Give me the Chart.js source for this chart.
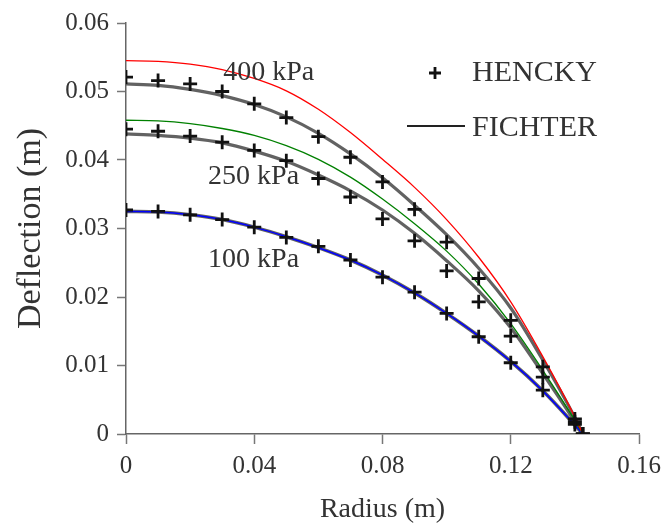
<!DOCTYPE html>
<html>
<head>
<meta charset="utf-8">
<script src="https://cdn.jsdelivr.net/npm/chart.js@4.4.1/dist/chart.umd.min.js"></script>
<style>
  html, body { margin: 0; padding: 0; background: #fff; }
  #wrap { width: 671px; height: 530px; }
</style>
</head>
<body>
<div id="wrap"><canvas id="chart" width="671" height="530"></canvas></div>
<script>
// --- data ---
const radius = [0, 0.01, 0.02, 0.03, 0.04, 0.05, 0.06, 0.07, 0.08, 0.09, 0.10, 0.11, 0.12, 0.13, 0.14, 0.1425];

// HENCKY solution (crosses)
const hencky400 = [0.0521, 0.0516, 0.0511, 0.0500, 0.0482, 0.0462, 0.0434, 0.0404, 0.0368, 0.0328, 0.0280, 0.0227, 0.0166, 0.0098, 0.0022, 0];
const hencky250 = [0.0445, 0.0442, 0.0435, 0.0426, 0.0414, 0.0399, 0.0373, 0.0346, 0.0314, 0.0282, 0.0238, 0.0193, 0.0143, 0.0083, 0.0018, 0];
const hencky100 = [0.0327, 0.0325, 0.0320, 0.0313, 0.0302, 0.0287, 0.0274, 0.0254, 0.0229, 0.0207, 0.0176, 0.0142, 0.0104, 0.0064, 0.0014, 0];

// FICHTER solution (grey lines)
const fichter400 = [0.0511, 0.0509, 0.0503, 0.0494, 0.0481, 0.0463, 0.0439, 0.0409, 0.0374, 0.0334, 0.0291, 0.0242, 0.0184, 0.0108, 0.0024, 0];
const fichter250 = [0.0438, 0.0436, 0.0432, 0.0425, 0.0413, 0.0398, 0.0378, 0.0355, 0.0327, 0.0293, 0.0253, 0.0209, 0.0155, 0.0088, 0.0018, 0];
const fichter100 = [0.0325, 0.0324, 0.0320, 0.0313, 0.0302, 0.0288, 0.0272, 0.0254, 0.0232, 0.0206, 0.0176, 0.0143, 0.0106, 0.0063, 0.0013, 0];

// coloured curves
const red400 = [0.0545, 0.0544, 0.0540, 0.0532, 0.0519, 0.0501, 0.0474, 0.0440, 0.0401, 0.0360, 0.0313, 0.0258, 0.0193, 0.0113, 0.0025, 0];
const green250 = [0.0458, 0.0457, 0.0453, 0.0446, 0.0436, 0.0421, 0.0401, 0.0375, 0.0343, 0.0307, 0.0267, 0.0219, 0.0161, 0.0093, 0.0020, 0];
const blue100 = [0.0325, 0.0324, 0.0320, 0.0313, 0.0302, 0.0288, 0.0272, 0.0254, 0.0232, 0.0206, 0.0176, 0.0143, 0.0106, 0.0063, 0.0013, 0];

const xTickValues = [0, 0.04, 0.08, 0.12, 0.16];
const xTickLabels = ['0', '0.04', '0.08', '0.12', '0.16'];
const yTickValues = [0, 0.01, 0.02, 0.03, 0.04, 0.05, 0.06];
const yTickLabels = ['0', '0.01', '0.02', '0.03', '0.04', '0.05', '0.06'];

const pressureLabels = ['400 kPa', '250 kPa', '100 kPa'];
const legendLabels = ['HENCKY', 'FICHTER'];

const SERIF = '"Liberation Serif", "Times New Roman", serif';
const TEXT = '#333';

function pts(ys) {
  return ys.map((y, i) => ({ x: radius[i], y }));
}

function crossSet(ys) {
  return {
    data: pts(ys), showLine: false,
    pointStyle: 'cross', pointRadius: 7, pointBorderWidth: 2.8,
    pointBorderColor: '#111', pointBackgroundColor: '#111',
    order: 0
  };
}

function lineSet(ys, color, width, order) {
  return {
    data: pts(ys), showLine: true, pointRadius: 0,
    borderColor: color, borderWidth: width,
    cubicInterpolationMode: 'monotone', order
  };
}

// labels + legend drawn straight on the canvas
const annotations = {
  id: 'annotations',
  afterDraw(chart) {
    const ctx = chart.ctx;
    const xs = chart.scales.x, ys = chart.scales.y;
    ctx.save();
    ctx.fillStyle = TEXT;
    ctx.font = '28px ' + SERIF;
    ctx.textBaseline = 'middle';
    ctx.textAlign = 'left';
    ctx.fillText(pressureLabels[0], xs.getPixelForValue(0.0303), ys.getPixelForValue(0.0528));
    ctx.fillText(pressureLabels[1], xs.getPixelForValue(0.0256), ys.getPixelForValue(0.0376));
    ctx.fillText(pressureLabels[2], xs.getPixelForValue(0.0256), ys.getPixelForValue(0.0255));

    // legend
    ctx.font = '30px ' + SERIF;
    ctx.fillText(legendLabels[0], 472, 73);
    ctx.fillText(legendLabels[1], 472, 128);
    ctx.strokeStyle = '#111';
    ctx.lineWidth = 2.8;
    ctx.beginPath();
    ctx.moveTo(429, 73); ctx.lineTo(441, 73);
    ctx.moveTo(435, 67); ctx.lineTo(435, 79);
    ctx.stroke();
    ctx.lineWidth = 2.2;
    ctx.strokeStyle = '#222';
    ctx.beginPath();
    ctx.moveTo(407, 126); ctx.lineTo(465, 126);
    ctx.stroke();
    ctx.restore();
  }
};

const ctx = document.getElementById('chart').getContext('2d');
new Chart(ctx, {
  type: 'scatter',
  data: {
    datasets: [
      crossSet(hencky400),
      crossSet(hencky250),
      crossSet(hencky100),
      lineSet(red400, '#ff0000', 1.3, 1),
      lineSet(green250, '#008000', 1.3, 1),
      lineSet(blue100, '#0000ff', 1.5, 1),
      lineSet(fichter400, 'rgba(70,70,70,0.85)', 3.2, 2),
      lineSet(fichter250, 'rgba(70,70,70,0.85)', 3.2, 2),
      lineSet(fichter100, 'rgba(70,70,70,0.85)', 3.6, 2)
    ]
  },
  options: {
    responsive: false,
    animation: false,
    devicePixelRatio: 1,
    layout: { padding: { left: 0, right: 32, top: 22, bottom: 0 } },
    plugins: { legend: { display: false }, tooltip: { enabled: false } },
    scales: {
      x: {
        type: 'linear', min: 0, max: 0.16,
        afterBuildTicks: axis => { axis.ticks = xTickValues.map(v => ({ value: v })); },
        afterFit: axis => { axis.height = 96; },
        ticks: {
          autoSkip: false, maxRotation: 0, padding: 7, color: TEXT,
          font: { family: SERIF, size: 25 },
          callback: (v) => xTickLabels[xTickValues.indexOf(v)]
        },
        grid: { drawOnChartArea: false, drawTicks: true, tickLength: 10, tickColor: '#777', tickWidth: 1.5 },
        border: { display: true, color: '#666', width: 1.5 },
        title: { display: true, text: 'Radius (m)', color: TEXT, font: { family: SERIF, size: 28 }, padding: { top: 2, bottom: 4 } }
      },
      y: {
        type: 'linear', min: 0, max: 0.06,
        afterBuildTicks: axis => { axis.ticks = yTickValues.map(v => ({ value: v })); },
        afterFit: axis => { axis.width = 126; },
        ticks: {
          autoSkip: false, padding: 8, color: TEXT,
          font: { family: SERIF, size: 25 },
          callback: (v) => yTickLabels[yTickValues.indexOf(v)]
        },
        grid: { drawOnChartArea: false, drawTicks: true, tickLength: 9, tickColor: '#777', tickWidth: 1.5 },
        border: { display: true, color: '#666', width: 1.5 },
        title: { display: true, text: 'Deflection (m)', color: TEXT, font: { family: SERIF, size: 34 }, padding: { top: 11, bottom: 0 } }
      }
    }
  },
  plugins: [annotations]
});
</script>
</body>
</html>
